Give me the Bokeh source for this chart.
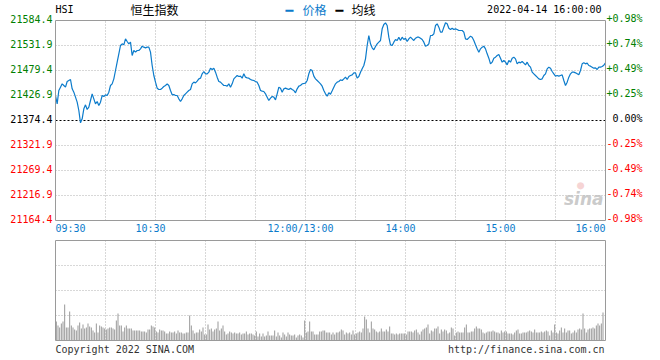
from bokeh.plotting import figure
from bokeh.models import Range1d, Label, ColumnDataSource
from bokeh.embed import file_html
from bokeh.resources import INLINE

# ---------------- data ----------------
symbol = "HSI"
index_name = "恒生指数"
stamp = "2022-04-14 16:00:00"
legend_labels = ["价格", "均线"]
prev_close = 21374.4
price_ticks = [21584.4, 21531.9, 21479.4, 21426.9, 21374.4, 21321.9, 21269.4, 21216.9, 21164.4]
pct_labels = ["+0.98%", "+0.74%", "+0.49%", "+0.25%", "0.00%", "-0.25%", "-0.49%", "-0.74%", "-0.98%"]
time_ticks = [0, 60, 150, 210, 270, 330]          # trading minutes since 09:30
time_labels = ["09:30", "10:30", "12:00/13:00", "14:00", "15:00", "16:00"]
grid_minutes = [30, 60, 90, 120, 150, 180, 210, 240, 270, 300]
vol_grid = [25, 50, 75]
vol_max = 100

prices = [
    21426.9, 21409.4, 21437.4, 21444.4, 21451.4, 21447.9, 21444.4, 21456.3, 21458.4, 21460.5,
    21440.9, 21433.9, 21423.4, 21412.9, 21395.4, 21369.5, 21377.9, 21398.9, 21407.3, 21397.5,
    21402.4, 21416.4, 21430.4, 21419.9, 21409.4, 21414.3, 21405.9, 21412.9, 21426.9, 21424.8,
    21428.3, 21426.9, 21433.9, 21447.9, 21451.4, 21461.9, 21479.4, 21496.9, 21514.4, 21531.9,
    21535.4, 21533.3, 21545.9, 21540.3, 21535.4, 21538.9, 21510.9, 21521.4, 21517.9, 21521.4,
    21521.4, 21524.9, 21530.5, 21528.4, 21527.0, 21528.4, 21528.4, 21517.9, 21489.9, 21468.9,
    21454.9, 21442.3, 21439.5, 21439.5, 21442.3, 21445.8, 21447.9, 21451.4, 21447.9, 21437.4,
    21428.3, 21429.0, 21426.9, 21426.9, 21419.9, 21414.3, 21419.9, 21426.9, 21430.4, 21433.9,
    21437.4, 21439.5, 21451.4, 21454.9, 21453.5, 21457.0, 21461.9, 21463.3, 21472.4, 21477.3,
    21472.4, 21472.4, 21475.9, 21484.3, 21481.5, 21484.3, 21475.9, 21465.4, 21456.3, 21454.9,
    21451.4, 21447.9, 21447.9, 21446.5, 21451.4, 21444.4, 21451.4, 21461.9, 21465.4, 21468.9,
    21466.8, 21467.5, 21463.3, 21472.4, 21465.4, 21464.0, 21463.3, 21460.5,
    21459.1, 21458.4, 21456.3, 21454.9, 21447.9, 21437.4, 21436.0, 21435.3, 21430.4, 21423.4,
    21416.4, 21421.3, 21424.8, 21423.4, 21417.8, 21430.4, 21444.4, 21442.3, 21433.9, 21440.9,
    21442.3, 21440.9, 21439.5, 21442.3, 21439.5, 21437.4, 21432.5, 21440.9, 21446.5, 21447.9,
    21451.4, 21452.1, 21452.8, 21458.4, 21472.4, 21481.5, 21479.4, 21467.5, 21461.9, 21458.4,
    21454.9, 21451.4, 21446.5, 21437.4, 21430.4, 21425.5, 21432.5, 21429.7, 21436.7, 21444.4,
    21451.4, 21454.9, 21456.3, 21459.8, 21458.4, 21461.9, 21465.4, 21460.5, 21466.8, 21468.9,
    21470.3, 21474.5, 21474.5, 21463.3, 21466.8, 21475.9, 21482.9, 21489.9, 21503.9, 21531.9,
    21552.9, 21535.4, 21527.0, 21522.8, 21529.8, 21535.4, 21538.9, 21542.4, 21566.9, 21576.0,
    21579.5, 21573.9, 21549.4, 21533.3, 21531.9, 21538.9, 21544.5, 21542.4, 21549.4, 21542.4,
    21549.4, 21544.5, 21547.3, 21540.3, 21545.9, 21549.4, 21545.9, 21542.4, 21547.3, 21549.4,
    21549.4, 21547.3, 21544.5, 21538.9, 21530.5, 21531.9, 21535.4, 21552.9, 21552.9, 21556.4,
    21573.9, 21577.4, 21570.4, 21559.9,
    21559.9, 21570.4, 21579.5, 21577.4, 21568.3, 21565.5, 21568.3, 21565.5, 21566.9, 21565.5,
    21563.4, 21563.4, 21563.4, 21559.9, 21545.9, 21544.5, 21548.0, 21551.5, 21549.4, 21542.4,
    21533.3, 21524.9, 21517.9, 21524.9, 21528.4, 21530.5, 21524.9, 21514.4, 21505.3, 21493.4,
    21496.9, 21505.3, 21507.4, 21510.9, 21513.0, 21505.3, 21496.9, 21500.4, 21496.9, 21491.3,
    21500.4, 21496.9, 21505.3, 21507.4, 21503.9, 21493.4, 21496.9, 21495.5, 21498.3, 21494.8,
    21491.3, 21496.9, 21489.9, 21486.4, 21475.9, 21472.4, 21468.9, 21465.4, 21461.9, 21460.5,
    21461.9, 21468.9, 21472.4, 21482.9, 21486.4, 21484.3, 21477.3, 21472.4, 21467.5, 21468.9,
    21467.5, 21468.9, 21470.3, 21458.4, 21447.9, 21454.9, 21465.4, 21472.4, 21475.9, 21475.9,
    21474.5, 21472.4, 21470.3, 21479.4, 21493.4, 21495.5, 21493.4, 21494.8, 21489.9, 21488.5,
    21486.4, 21484.3, 21485.0, 21481.5, 21486.4, 21486.4, 21487.8, 21490.6, 21495.5,
]

volumes = [
    19, 15, 13, 17, 19, 36, 13, 13, 29, 15,
    13, 11, 10, 15, 18, 12, 16, 12, 13, 17,
    14, 13, 10, 8, 17, 8, 15, 14, 13, 12,
    11, 12, 13, 13, 12, 11, 20, 27, 15, 15,
    9, 13, 15, 12, 12, 12, 10, 10, 10, 10,
    10, 9, 9, 9, 8, 11, 11, 15, 14, 13,
    9, 8, 11, 10, 10, 9, 7, 7, 9, 8,
    8, 9, 7, 10, 8, 8, 7, 7, 8, 8,
    25, 15, 10, 7, 8, 8, 11, 9, 13, 6,
    6, 16, 11, 12, 9, 11, 12, 19, 10, 12,
    15, 9, 6, 7, 9, 8, 7, 8, 7, 7,
    8, 6, 7, 7, 9, 6, 7, 7, 6,
    5, 9, 4, 7, 4, 7, 4, 5, 9, 5,
    5, 5, 10, 4, 8, 5, 3, 8, 6, 4,
    8, 6, 5, 5, 6, 3, 5, 6, 5, 3,
    20, 8, 9, 19, 9, 9, 6, 6, 6, 9,
    9, 10, 10, 8, 8, 8, 6, 8, 6, 8,
    8, 9, 11, 10, 6, 8, 7, 8, 6, 10,
    6, 7, 8, 9, 8, 12, 24, 21, 12, 8,
    19, 12, 11, 9, 8, 9, 12, 9, 9, 11,
    9, 14, 7, 7, 6, 7, 6, 7, 7, 7,
    7, 6, 9, 9, 9, 8, 10, 11, 8, 6, 9,
    11, 12, 13, 16, 7, 10, 9, 12, 12, 14,
    7, 11, 9, 11, 10, 7, 8, 13, 12, 5,
    8, 9, 8, 8, 8, 13, 16, 8, 8, 9,
    9, 12, 14, 12, 12, 11, 8, 7, 8, 9,
    9, 9, 10, 9, 8, 8, 7, 10, 8, 9,
    9, 7, 7, 7, 6, 8, 10, 11, 7, 7,
    8, 8, 8, 9, 10, 9, 8, 11, 8, 8,
    8, 9, 8, 9, 10, 9, 5, 10, 8, 16,
    8, 7, 10, 13, 8, 12, 8, 10, 10, 7,
    8, 10, 8, 11, 12, 11, 27, 12, 8, 11,
    12, 12, 13, 12, 15, 17, 15, 17, 28,
]

# ---------------- styles / layout ----------------
BLUE = "#0b7bcb"
GREEN = "#008000"
RED = "#ff0000"
GRID = "#b0b0b0"
FRAME = "#9a9a9a"
MONO = "DejaVu Sans Mono"
CJK = "Noto Sans CJK SC"

W, H = 660, 360               # canvas in px
FL, FR = 55, 605              # panel left / right edge (px)
PT, PB = 20, 220              # price panel top / bottom (px)
VT, VB = 240, 340             # volume panel top / bottom (px)

t0, t1 = time_ticks[0], time_ticks[-1]
lo, hi = price_ticks[-1], price_ticks[0]
xs = (t1 - t0) / (FR - FL)
ys = (hi - lo) / (PB - PT)
vs = vol_max / (VB - VT)

p = figure(width=W, height=H, output_backend="svg", toolbar_location=None,
           x_axis_location=None, y_axis_location=None,
           x_range=Range1d(t0 - FL * xs, t1 + (W - FR) * xs),
           y_range=Range1d(lo - (H - PB) * ys, hi + PT * ys),
           min_border_left=0, min_border_right=0, min_border_top=0, min_border_bottom=0)
p.extra_y_ranges = {"vol": Range1d(0 - (H - VB) * vs, vol_max + VT * vs)}
p.outline_line_color = None
p.grid.visible = False
p.background_fill_color = "white"
p.border_fill_color = "white"


def lab(x, y, text, dx=0, dy=0, align="left", color="black", font=MONO, size="10px",
        style="normal", alpha=1.0, rng="default"):
    p.add_layout(Label(x=x, y=y, text=text, x_offset=dx, y_offset=dy, text_align=align,
                       text_baseline="middle", text_color=color, text_font=font,
                       text_font_size=size, text_font_style=style, text_alpha=alpha,
                       y_range_name=rng))


# ---------------- price panel ----------------
hgrid = [v for v in price_ticks[1:-1] if v != prev_close]
p.segment(x0=[t0] * len(hgrid), x1=[t1] * len(hgrid), y0=hgrid, y1=hgrid,
          line_color=GRID, line_dash="1 2", line_width=1)
p.segment(x0=grid_minutes, x1=grid_minutes, y0=[lo] * len(grid_minutes),
          y1=[hi] * len(grid_minutes), line_color=GRID, line_dash="1 2", line_width=1)
p.segment(x0=[t0], x1=[t1], y0=[prev_close], y1=[prev_close], line_color="black",
          line_dash="2 2", line_width=1)

src = ColumnDataSource(dict(minute=list(range(len(prices))), price=prices))
p.line(x="minute", y="price", source=src, line_color=BLUE, line_width=1.2)

p.quad(left=[t0], right=[t1], bottom=[lo], top=[hi], fill_color=None,
       line_color=FRAME, line_width=1)


def col_for(v):
    if v > prev_close:
        return GREEN
    if v < prev_close:
        return RED
    return "black"


for v, pct in zip(price_ticks, pct_labels):
    c = col_for(v)
    lab(t0, v, f"{v:.1f}", dx=-3, dy=2, align="right", color=c)
    lab(t1, v, pct, dx=37, dy=2, align="right", color=c)

for i, (t, txt) in enumerate(zip(time_ticks, time_labels)):
    if i == 0:
        align, dx = "left", 0
    elif i == len(time_ticks) - 1:
        align, dx = "right", 0
    else:
        align, dx = "center", -5
    lab(t, lo, txt, dx=dx, dy=-8, align=align, color=BLUE)

# header
lab(t0, hi, symbol, dx=0, dy=11)
lab(t0, hi, index_name, dx=75, dy=11, font=CJK, size="12px")
lab(t0, hi, "━", dx=230, dy=10, color=BLUE, size="13px")
lab(t0, hi, legend_labels[0], dx=247, dy=11, color=BLUE, font=CJK, size="12px")
lab(t0, hi, "━", dx=280, dy=10, size="13px")
lab(t0, hi, legend_labels[1], dx=296, dy=11, font=CJK, size="12px")
lab(t1, hi, stamp, dx=-4, dy=11, align="right")

# watermark
lab(t1, lo, "●", dx=-25, dy=36, align="center", color="#f0b8b8", size="12px", alpha=0.6)
lab(t1, lo, "sina", dx=-2, dy=22, align="right", color="#c4c4c4", font="DejaVu Sans",
    size="17px", style="bold italic", alpha=0.9)

# ---------------- volume panel ----------------
p.segment(x0=[t0] * len(vol_grid), x1=[t1] * len(vol_grid), y0=vol_grid, y1=vol_grid,
          line_color=GRID, line_dash="1 2", line_width=1, y_range_name="vol")
p.segment(x0=grid_minutes, x1=grid_minutes, y0=[0] * len(grid_minutes),
          y1=[vol_max] * len(grid_minutes), line_color=GRID, line_dash="1 2",
          line_width=1, y_range_name="vol")

vsrc = ColumnDataSource(dict(x=[i + 0.5 for i in range(len(volumes))], v=volumes))
p.vbar(x="x", top="v", bottom=0, width=0.6, source=vsrc, fill_color="#999999",
       line_color=None, y_range_name="vol")

p.quad(left=[t0], right=[t1], bottom=[0], top=[vol_max], fill_color=None,
       line_color=FRAME, line_width=1, y_range_name="vol")

lab(t0, 0, "Copyright 2022 SINA.COM", dx=0, dy=-9, color="#333333", rng="vol")
lab(t1, 0, "http://finance.sina.com.cn", dx=-1, dy=-9, align="right", color="#333333",
    rng="vol")

open("out.html", "w").write(file_html(p, INLINE))
